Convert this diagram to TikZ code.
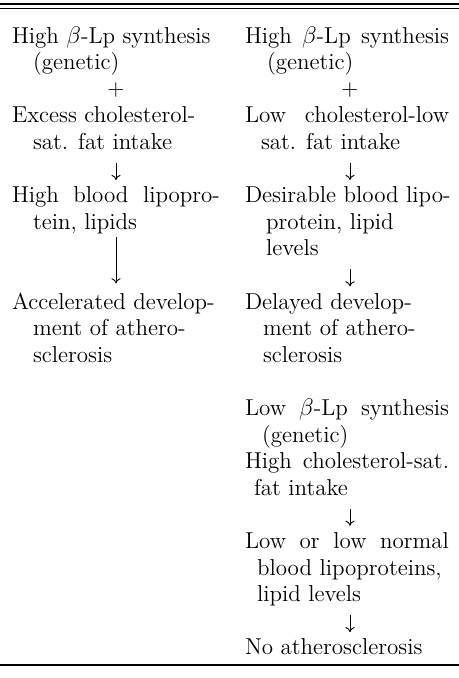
\documentclass[tikz,border=0pt]{standalone}
\usetikzlibrary{arrows.meta, positioning}

\newcommand{\bodyfont}{\fontsize{11.5pt}{13.3pt}\selectfont}
\newcommand{\rowh}{13.3pt}
\newcommand{\indt}[1][10.5pt]{\hspace*{#1}}
\newcommand{\fillrow}[2][102pt]{\makebox[#1][s]{#2}}

\begin{document}
\begin{tikzpicture}[
    x=0.5pt, y=-0.5pt,
    entry/.style={inner sep=0pt, outer sep=0pt, font=\bodyfont, align=left},
    sign/.style={inner sep=0pt, outer sep=0pt, font=\bodyfont, anchor=north},
    arr/.style={-{To[length=2.6pt, width=4.6pt]}, line width=0.45pt,
                shorten <=2.8pt, shorten >=2pt},
    rule/.style={line width=0.6pt}
]
\useasboundingbox (0,0) rectangle (459,678);

% column axes for signs and arrows
\coordinate (axL) at (116,0);
\coordinate (axR) at (350,0);

% ---------------- rules ----------------
\draw[rule] (0,4) -- (459,4);
\draw[rule] (0,8.5) -- (459,8.5);
\draw[rule, line width=0.7pt] (0,665) -- (459,665);

% ---------------- left column ----------------
\node[entry, anchor=north west] (synL) at (12,24.4)
    {\strut High $\beta$-Lp synthesis\\ \indt\strut(genetic)};
\node[sign] (plusL) at (synL.south -| axL)
    {\strut\raisebox{0.6pt}{\fontsize{11pt}{12pt}\selectfont$+$}};
\node[entry, anchor=north west] (fatL) at (plusL.south -| synL.west)
    {\strut Excess cholesterol-\\ \indt\strut sat. fat intake};
\node[entry, below=\rowh of fatL.south west, anchor=north west] (lipL)
    {\strut\fillrow[104pt]{High blood lipopro-}\\ \indt\strut tein, lipids};
\node[entry, below=2*\rowh of lipL.south west, anchor=north west] (devL)
    {\strut Accelerated develop-\\ \indt\strut ment of athero-\\ \indt\strut sclerosis};

% ---------------- right column ----------------
\node[entry, anchor=north west] (synR) at (245,24.4)
    {\strut\fillrow{High $\beta$-Lp synthesis}\\ \indt[11pt]\strut(genetic)};
\node[sign] (plusR) at (synR.south -| axR)
    {\strut\raisebox{0.6pt}{\fontsize{11pt}{12pt}\selectfont$+$}};
\node[entry, anchor=north west] (fatR) at (plusR.south -| synR.west)
    {\strut\fillrow{Low cholesterol-low}\\ \indt[8pt]\strut sat. fat intake};
\node[entry, below=\rowh of fatR.south west, anchor=north west] (lipR)
    {\strut Desirable blood lipo-\\ \indt\strut protein, lipid\\ \indt\strut levels};
\node[entry, below=\rowh of lipR.south west, anchor=north west] (devR)
    {\strut Delayed develop-\\ \indt[9pt]\strut ment of athero-\\ \indt[9pt]\strut sclerosis};
\node[entry, below=\rowh of devR.south west, anchor=north west] (lowR)
    {\strut\fillrow{Low $\beta$-Lp synthesis}\\ \indt[8.5pt]\strut(genetic)};
\node[entry, below=0pt of lowR.south west, anchor=north west] (highR)
    {\strut\fillrow{High cholesterol-sat.}\\ \indt[4.5pt]\strut fat intake};
\node[entry, below=\rowh of highR.south west, anchor=north west] (normR)
    {\strut\fillrow{Low or low normal}\\ \indt[6pt]\strut blood lipoproteins,\\ \indt[6pt]\strut lipid levels};
\node[entry, below=\rowh of normR.south west, anchor=north west] (noneR)
    {\strut No atherosclerosis};

% ---------------- arrows ----------------
\draw[arr] (fatL.south -| axL) -- (lipL.north -| axL);
\draw[arr, shorten <=0pt, shorten >=3.5pt] (lipL.south -| axL) -- (devL.north -| axL);
\foreach \a/\b in {fatR/lipR, lipR/devR, highR/normR, normR/noneR} {
    \draw[arr] (\a.south -| axR) -- (\b.north -| axR);
}

\end{tikzpicture}
\end{document}
